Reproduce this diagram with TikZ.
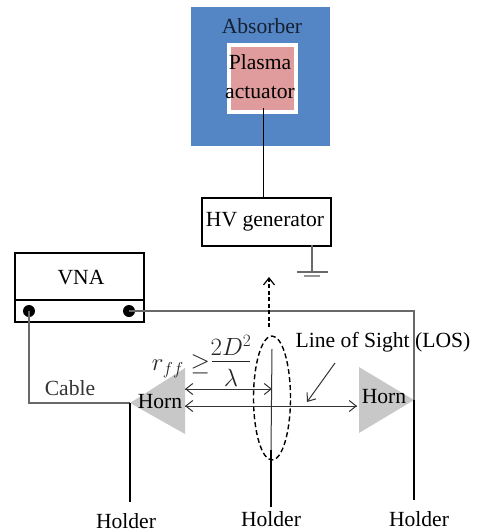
\documentclass[tikz,border=0pt]{standalone}
\usepackage{fontspec}
\setmainfont{Liberation Serif}
\definecolor{absblue}{RGB}{84, 133, 197}
\definecolor{plasmapink}{RGB}{224, 156, 156}
\definecolor{horngray}{RGB}{200, 200, 200}
\definecolor{cablegray}{RGB}{105, 105, 105}
\usetikzlibrary{shapes.geometric, arrows.meta}

\begin{document}
\begin{tikzpicture}[x=1pt, y=-1pt,
  lbl/.style={inner sep=0pt, font=\fontsize{21.6}{24}\selectfont},
  mathlbl/.style={inner sep=0pt, text=black!85, font=\fontsize{23}{26}\selectfont},
  devbox/.style={draw=black, line width=1.6pt, fill=white, minimum height=#1, anchor=north west, inner sep=0pt},
  port/.style={circle, fill=black, minimum size=12pt, inner sep=0pt},
  cable/.style={cablegray, line width=1.2pt},
  holder/.style={black, line width=1.6pt},
  beam/.style={black!80, line width=1pt, -{Straight Barb[length=7pt, width=11pt]}}
]
  \useasboundingbox (0,0) rectangle (481,532);

  % Absorber and actuator
  \node[fill=absblue, minimum width=139pt, minimum height=139pt, anchor=north west, inner sep=0pt] (absorber) at (191,7) {};
  \node[fill=plasmapink, draw=white, line width=4pt, minimum width=67pt, minimum height=67pt, anchor=north west, inner sep=0pt] (actuator) at (227,43) {};
  \node[lbl, text=black!75!absblue] (abstext) at (262,26) {Absorber};
  \node[lbl] (plasmatext) at (260,62) {Plasma};
  \node[lbl] (actuatortext) at (260,93) {actuator};

  % HV generator
  \node[devbox=48pt, minimum width=129pt] (hv) at (201,197) {};
  \node[lbl] (hvtext) at (265,222) {HV generator};
  \coordinate (hvtop) at (263,197);
  \coordinate (acbottom) at (263,108);
  \draw[black, line width=1pt] (acbottom) -- (hvtop);

  % Ground
  \coordinate (gndtop) at (312,245);
  \coordinate (gnd) at (312,272);
  \draw[cablegray, line width=1.2pt] (gndtop) -- (gnd);
  \draw[cablegray, line width=1.4pt] (297,272) -- (328,272);
  \draw[cablegray!70, line width=1.4pt] (304,276) -- (320,276);

  % VNA
  \node[devbox=47pt, minimum width=129pt] (vna) at (14,252) {};
  \node[devbox=22pt, minimum width=129pt] (vnalow) at (14,299) {};
  \node[lbl] (vnatext) at (81,278) {VNA};
  \node[port] (portl) at (29,311) {};
  \node[port] (portr) at (129,311) {};

  % Horns
  \coordinate (hornl) at (130,403);
  \coordinate (hornr) at (414,400);
  \fill[horngray] (hornl) -- (185,368) -- (185,434) -- cycle;
  \fill[horngray] (hornr) -- (359,367) -- (359,433) -- cycle;
  \node[lbl] (hornltext) at (160,402) {Horn};
  \node[lbl] (hornrtext) at (384,397) {Horn};

  % Cables
  \draw[cable] (portl.center) |- (hornl);
  \draw[cable] (portr.center) -| (hornr);
  \node[lbl, text=black!80] (cabletext) at (70,388) {Cable};

  % Holders
  \node[lbl] (holderl) at (126,521) {Holder};
  \node[lbl] (holderm) at (271,519) {Holder};
  \node[lbl] (holderr) at (419,519) {Holder};
  \coordinate (holdlend) at (130,502);
  \coordinate (holdmtop) at (271,450);
  \coordinate (holdmend) at (271,507);
  \coordinate (holdrend) at (414,500);
  \draw[holder] (hornl) -- (holdlend);
  \draw[holder] (holdmtop) -- (holdmend);
  \draw[holder] (hornr) -- (holdrend);

  % Sample in front of the beam
  \node[draw=black, dash pattern=on 5pt off 3pt, line width=1.4pt, ellipse, minimum width=37pt, minimum height=124pt, inner sep=0pt] (plasma) at (272,398) {};
  \coordinate (planetop) at (272,349);
  \draw[black!80, line width=1pt] (planetop) -- (holdmtop);
  \coordinate (movetop) at (269,277);
  \coordinate (movebot) at (269,327);
  \draw[black, line width=1.2pt, dash pattern=on 4pt off 2.5pt, -{Straight Barb[length=7pt, width=11pt]}] (movebot) -- (movetop);

  % Distances
  \coordinate (ffstart) at (185,389);
  \coordinate (ffend) at (272,389);
  \coordinate (losstart) at (185,406);
  \coordinate (losend) at (357,406);
  \draw[beam] (ffend) -- (ffstart);
  \draw[beam] (ffstart) -- (ffend);
  \draw[beam] (losend) -- (losstart);
  \draw[beam] (losstart) -- (losend);

  % Far field formula
  \node[mathlbl] (rff) at (181,366) {$r_{ff}\geq$};
  \node[mathlbl] (fracnum) at (231,345) {$2D^2$};
  \node[mathlbl] (fracden) at (231,378) {$\lambda$};
  \coordinate (barl) at (212,361);
  \coordinate (barr) at (250,361);
  \draw[black!85, line width=0.9pt] (barl) -- (barr);

  % Line of sight
  \node[lbl] (lostext) at (383,342) {Line of Sight (LOS)};
  \coordinate (losfrom) at (335,363);
  \coordinate (losto) at (307,402);
  \draw[black!80, line width=1pt, -{Straight Barb[length=7pt, width=11pt]}] (losfrom) -- (losto);
\end{tikzpicture}
\end{document}
